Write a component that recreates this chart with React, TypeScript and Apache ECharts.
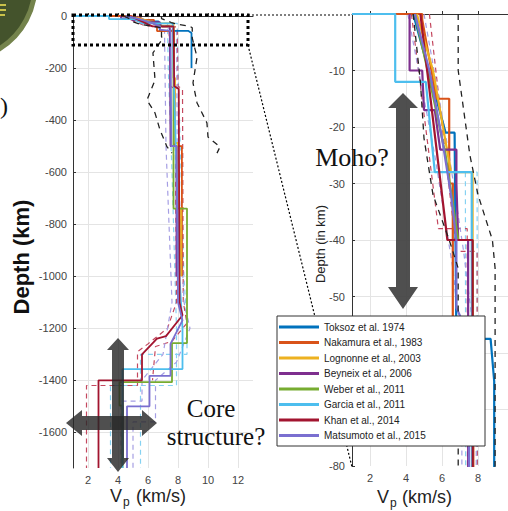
import React, { useEffect, useRef } from "react";
import * as echarts from "echarts";

// ---- model names & colours ----
const MODEL_NAMES = [
  "Toksoz et al. 1974",
  "Nakamura et al., 1983",
  "Lognonne et al., 2003",
  "Beyneix et al., 2006",
  "Weber et al., 2011",
  "Garcia et al., 2011",
  "Khan et al., 2014",
  "Matsumoto et al., 2015",
];
const MODEL_COLORS = ["#0072BD", "#D95319", "#EDB120", "#7E2F8E", "#77AC30", "#4DBEEE", "#A2142F", "#7a6fd0"];

// ---- profiles: [Vp (km/s), depth (km, negative)] ----
const toksoz = [[4.4, 0], [6.2, -21], [6.7, -21], [6.8, -57.5], [8.7, -57.5], [8.9, -65], [8.9, -200]];
const nakamura = [[3.4, 0], [4.9, 0], [4.9, -1], [5.7, -15], [6.4, -15], [6.4, -30], [6.6, -30], [6.6, -58], [7.74, -58], [7.74, -500], [8.26, -500], [8.26, -1000]];
const lognonne = [[4.6, 0], [5.5, -10], [6.5, -28], [7.7, -28], [7.7, -238], [7.8, -238], [7.8, -488], [8.0, -488], [8.0, -738], [8.2, -738], [8.2, -1000]];
const beyneix = [[4.2, 0], [4.2, -10], [4.9, -10], [5.0, -17], [5.6, -17], [5.9, -24], [6.8, -24], [6.8, -30], [6.9, -40], [7.45, -40], [7.5, -500], [7.9, -500], [7.9, -1000]];
const weber = [[4.5, 0], [5.2, -10], [6.2, -25], [6.9, -40], [7.7, -40], [7.7, -740], [8.6, -740], [8.6, -1257], [7.6, -1257], [7.6, -1407], [4.1, -1407], [4.1, -1497], [4.3, -1497], [4.3, -1737]];
const garcia = [[1, 0], [3.4, 0], [3.4, -12], [5.1, -12], [5.6, -28], [7.65, -28], [7.7, -200], [7.9, -600], [8.1, -1000], [8.3, -1200], [8.3, -1357], [4.3, -1357], [4.3, -1737]];
const khan = [[4.8, 0], [6.3, -40], [7.7, -40], [7.75, -270], [8.05, -280], [8.1, -1100], [8.3, -1150], [7.2, -1230], [6.6, -1240], [5.6, -1300], [5.6, -1400], [2.7, -1400], [2.7, -1737]];
const matsumoto = [[4.5, 0], [5.3, -10], [6.0, -22], [6.5, -32], [6.8, -40], [6.8, -52], [7.5, -57], [7.55, -500], [7.9, -500], [8.0, -1100], [8.3, -1170], [7.5, -1260], [7.5, -1383], [6.1, -1383], [6.1, -1500], [4.6, -1500], [4.6, -1737]];

// uncertainty bounds (dashed)
const garciaLo = [[5.3, -28], [7.3, -28], [7.35, -200], [7.6, -600], [7.8, -1000], [7.9, -1200], [7.9, -1420], [3.5, -1420], [3.5, -1737]];
const garciaHi = [[5.9, -28], [7.95, -28], [8.0, -200], [8.2, -600], [8.4, -1000], [8.6, -1200], [8.6, -1300], [5.5, -1300], [5.5, -1737]];
const khanLo = [[4.3, 0], [5.8, -38], [7.4, -38], [7.5, -270], [7.8, -280], [7.9, -1100], [7.3, -1200], [6.0, -1260], [5.3, -1290], [5.3, -1420], [1.9, -1420], [1.9, -1737]];
const khanHi = [[5.3, 0], [6.8, -42], [7.95, -42], [8.0, -270], [8.3, -280], [8.35, -1100], [8.6, -1180], [7.6, -1250], [6.5, -1270], [6.3, -1400]];
const matsLo = [[4.1, 0], [5.6, -25], [6.6, -45], [7.1, -60], [7.2, -500], [7.6, -1100], [7.0, -1300], [5.6, -1400], [5.6, -1480], [4.2, -1480], [4.2, -1737]];
const matsHi = [[5.0, 0], [6.4, -25], [7.2, -42], [7.9, -60], [7.95, -500], [8.4, -1100], [8.8, -1200], [7.9, -1330], [6.5, -1400], [6.5, -1560], [5.0, -1560], [5.0, -1737]];
const blackInner = [[4.4, 0], [4.8, -12], [5.0, -22], [5.5, -32], [6.4, -40], [6.9, -45], [6.9, -80], [7.0, -85], [6.33, -142], [6.47, -246], [5.93, -323], [6.47, -373], [6.8, -438], [7.27, -503], [7.6, -527]];
const blackOuter = [[6.9, 0], [6.9, -10], [7.55, -25], [8.0, -32], [8.8, -40], [8.95, -45], [8.95, -85], [9.27, -158], [9.0, -257], [9.27, -334], [9.93, -411], [10.0, -465], [10.8, -503], [10.6, -527]];

const MODELS = [toksoz, nakamura, lognonne, beyneix, weber, garcia, khan, matsumoto];
const BOUNDS: [string, number[][], string][] = [
  ["garciaLo", garciaLo, "#86d2f2"],
  ["garciaHi", garciaHi, "#86d2f2"],
  ["khanLo", khanLo, "#c4485f"],
  ["khanHi", khanHi, "#c4485f"],
  ["matsLo", matsLo, "#a59ee3"],
  ["matsHi", matsHi, "#a59ee3"],
];
const RIGHT_HIDDEN_LABELS = [0, -60, -70];

const FONT = "Liberation Sans";
const SERIF = "Liberation Serif";

function line(name: string, data: number[][], color: string, width: number, dash: any, idx: number, z: number) {
  return {
    name,
    type: "line",
    xAxisIndex: idx,
    yAxisIndex: idx,
    data,
    color,
    showSymbol: false,
    symbol: "none",
    silent: true,
    clip: true,
    z,
    lineStyle: { color, width, type: dash },
    itemStyle: { color },
    emphasis: { disabled: true },
  };
}

function axisCommon() {
  return {
    axisLine: { show: true, lineStyle: { color: "#333", width: 1 } },
    axisTick: { show: true, inside: true, length: 3, lineStyle: { color: "#333" } },
    splitLine: { show: true, showMinLine: false, showMaxLine: false, lineStyle: { color: "#e4e4e4", width: 1 } },
  };
}

export default function App() {
  const ref = useRef<HTMLDivElement>(null);
  useEffect(() => {
    if (!ref.current) return;
    const chart = echarts.init(ref.current, null, { renderer: "svg" });
    const series: any[] = [];
    [0, 1].forEach((idx) => {
      const w = idx === 0 ? 1.8 : 2.2;
      BOUNDS.forEach(([n, d, c]) => series.push(line(n + idx, d, c, 1.2, [5, 4], idx, 2)));
      MODELS.forEach((d, i) => series.push(line(MODEL_NAMES[i], d, MODEL_COLORS[i], w, "solid", idx, 3)));
      series.push(line("blackInner" + idx, blackInner, "#222", 1.3, [6, 5], idx, 4));
      series.push(line("blackOuter" + idx, blackOuter, "#222", 1.3, [6, 5], idx, 4));
    });

    const label = { color: "#444", fontSize: 11, fontFamily: FONT };

    const arrowFill = "rgba(40,40,40,0.82)";
    const option: any = {
      animation: false,
      backgroundColor: "#fff",
      grid: [
        { left: 73, top: 16, width: 180, height: 452, outerBoundsMode: "none", containLabel: false },
        { left: 352, top: 14, width: 162, height: 452, outerBoundsMode: "none", containLabel: false },
      ],
      xAxis: [
        {
          gridIndex: 0, type: "value", min: 1, max: 13, splitNumber: 6,
          ...axisCommon(),
          axisLabel: { ...label, margin: 6, showMinLabel: false, showMaxLabel: false, formatter: (v: number) => (v % 2 === 0 ? String(v) : "") },
        },
        {
          gridIndex: 1, type: "value", min: 1, max: 10, splitNumber: 5,
          ...axisCommon(),
          axisLabel: { ...label, margin: 6, showMinLabel: false, formatter: (v: number) => (v % 2 === 0 && v < 10 ? String(v) : "") },
        },
      ],
      yAxis: [
        {
          gridIndex: 0, type: "value", min: -1737, max: 0, splitNumber: 9,
          ...axisCommon(),
          axisLabel: { ...label, margin: 6, showMinLabel: false, formatter: (v: number) => (v % 200 === 0 ? String(v) : "") },
        },
        {
          gridIndex: 1, type: "value", min: -80, max: 0, interval: 10,
          ...axisCommon(),
          axisLabel: { ...label, margin: 7, formatter: (v: number) => (RIGHT_HIDDEN_LABELS.indexOf(v) >= 0 ? "" : String(v)) },
        },
      ],
      legend: {
        data: MODEL_NAMES,
        orient: "vertical",
        left: 279,
        top: 321,
        itemWidth: 40,
        itemHeight: 3,
        itemGap: 3.5,
        icon: "rect",
        selectedMode: false,
        z: 60,
        padding: 0,
        textStyle: { fontSize: 10, color: "#222", fontFamily: FONT, lineHeight: 12 },
      },
      series,
      graphic: [
        // moon badge top-left
        { type: "circle", shape: { cx: -40, cy: -15, r: 75 }, style: { fill: "#44532c", stroke: "#74834c", lineWidth: 5 }, z: 5 },
        { type: "rect", shape: { x: 0, y: 4, width: 6, height: 2 }, style: { fill: "#c9c24a" }, z: 6 },
        { type: "rect", shape: { x: 0, y: 9, width: 6, height: 2 }, style: { fill: "#c9c24a" }, z: 6 },
        { type: "rect", shape: { x: 0, y: 14, width: 5, height: 2 }, style: { fill: "#c9c24a" }, z: 6 },
        { type: "text", x: 0, y: 106, style: { text: ")", font: `24px "${SERIF}"`, fill: "#111", align: "left", verticalAlign: "middle" }, z: 6 },
        // zoom box and connectors
        { type: "rect", shape: { x: 73, y: 15, width: 175, height: 30 }, style: { fill: "none", stroke: "#000", lineWidth: 3, lineDash: [3, 3] }, z: 20 },
        { type: "line", shape: { x1: 248, y1: 15, x2: 352, y2: 15 }, style: { stroke: "#000", lineWidth: 1.2, lineDash: [2, 2] }, z: 20 },
        { type: "line", shape: { x1: 248, y1: 45, x2: 352, y2: 467 }, style: { stroke: "#000", lineWidth: 1.2, lineDash: [2, 2] }, z: 20 },
        // right arrow (Moho)
        {
          type: "polygon",
          shape: { points: [[403, 93], [418, 108], [410, 108], [410, 287], [418, 287], [403, 309], [388, 287], [396, 287], [396, 108], [388, 108]] },
          style: { fill: "rgba(60,60,60,0.9)" },
          z: 30,
        },
        // left cross arrows (core)
        {
          type: "polygon",
          shape: { points: [[118, 338], [129, 350], [124, 350], [124, 458], [129, 458], [118, 472], [107, 458], [112, 458], [112, 350], [107, 350]] },
          style: { fill: arrowFill },
          z: 30,
        },
        {
          type: "polygon",
          shape: { points: [[66, 423], [82, 410], [82, 416], [142, 416], [142, 410], [157, 423], [142, 436], [142, 430], [82, 430], [82, 436]] },
          style: { fill: arrowFill },
          z: 30,
        },
        { type: "text", x: 352, y: 157, style: { text: "Moho?", font: `26px "${SERIF}"`, fill: "#111", align: "center", verticalAlign: "middle" }, z: 35 },
        { type: "text", x: 211, y: 408, style: { text: "Core", font: `25px "${SERIF}"`, fill: "#111", align: "center", verticalAlign: "middle" }, z: 35 },
        { type: "text", x: 216, y: 436, style: { text: "structure?", font: `25px "${SERIF}"`, fill: "#111", align: "center", verticalAlign: "middle" }, z: 35 },
        // axis titles
        { type: "text", x: 21, y: 257, rotation: Math.PI / 2, style: { text: "Depth (km)", font: `bold 22px "${FONT}"`, fill: "#111", align: "center", verticalAlign: "middle" }, z: 35 },
        { type: "text", x: 320, y: 244, rotation: Math.PI / 2, style: { text: "Depth (in km)", font: `13px "${FONT}"`, fill: "#222", align: "center", verticalAlign: "middle" }, z: 35 },
        { type: "text", x: 110, y: 496, style: { text: "V", font: `18px "${FONT}"`, fill: "#222", align: "left", verticalAlign: "middle" }, z: 35 },
        { type: "text", x: 123, y: 502, style: { text: "p", font: `12px "${FONT}"`, fill: "#222", align: "left", verticalAlign: "middle" }, z: 35 },
        { type: "text", x: 136, y: 496, style: { text: "(km/s)", font: `18px "${FONT}"`, fill: "#222", align: "left", verticalAlign: "middle" }, z: 35 },
        { type: "text", x: 377, y: 497, style: { text: "V", font: `18px "${FONT}"`, fill: "#222", align: "left", verticalAlign: "middle" }, z: 35 },
        { type: "text", x: 390, y: 503, style: { text: "p", font: `12px "${FONT}"`, fill: "#222", align: "left", verticalAlign: "middle" }, z: 35 },
        { type: "text", x: 402, y: 497, style: { text: "(km/s)", font: `18px "${FONT}"`, fill: "#222", align: "left", verticalAlign: "middle" }, z: 35 },
        // legend box
        { type: "rect", shape: { x: 277, y: 316, width: 208, height: 130 }, style: { fill: "#fff", stroke: "#333", lineWidth: 1 }, z: 55 },
      ],
    };
    chart.setOption(option);
    return () => chart.dispose();
  }, []);
  return <div ref={ref} style={{ width: 508, height: 511, position: "absolute", left: 0, top: 0 }} />;
}
